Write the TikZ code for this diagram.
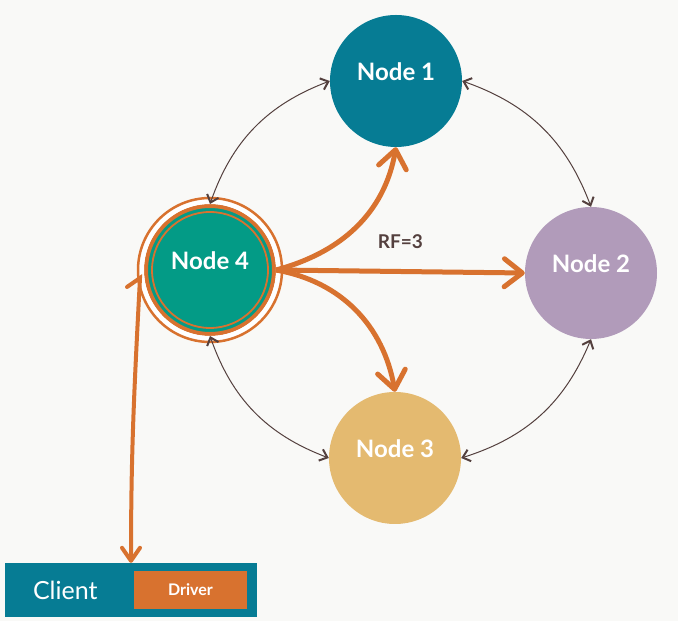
\documentclass[tikz,border=0pt]{standalone}
\usepackage{fontspec}
\setmainfont{Lato}
\usetikzlibrary{arrows.meta}

\definecolor{bgcol}{HTML}{F9F9F7}
\definecolor{tealblue}{HTML}{067C94}
\definecolor{lilac}{HTML}{B19BBA}
\definecolor{sand}{HTML}{E4BA70}
\definecolor{jade}{HTML}{039B86}
\definecolor{orng}{HTML}{D8722F}
\definecolor{darkarr}{HTML}{54403E}

\tikzset{
  ring/.style={draw=orng, line width=#1},
  repl/.style={draw=orng, line width=5pt, -{Straight Barb[length=18pt,width=28pt,round]}},
  gossip/.style={draw=darkarr, line width=1pt, <->, >={Straight Barb[length=7pt,width=12pt,line width=2pt]}}
}

\begin{document}
\begin{tikzpicture}[x=1pt,y=1pt]

      \fill[bgcol] (0,0) rectangle (678,621);

      \begin{scope}[every node/.style={circle, minimum size=132pt, inner sep=0pt, text=white,
          font=\fontsize{24}{28}\selectfont\bfseries, text height=15pt, text depth=15pt}]
        \node[fill=tealblue] (1) at (396,540) {Node 1};
        \node[fill=lilac]    (2) at (591,348) {Node 2};
        \node[fill=sand]     (3) at (395,163) {Node 3};
        \node[fill=jade, draw=orng, line width=4pt, minimum size=128pt] (4) at (210,351) {Node 4};
      \end{scope}

      \draw[white, line width=5pt] (4) circle (68.5);
      \draw[ring=2.5pt] (4) circle (72);
      \draw[ring=1.8pt] (4) circle (58);

      \node[fill=tealblue, minimum width=252pt, minimum height=54pt, text width=196pt, align=left,
        text=white, font=\fontsize{25}{29}\selectfont] (client) at (131,31) {Client};
      \node[fill=orng, minimum width=113pt, minimum height=38pt, text=white,
        font=\fontsize{16}{19}\selectfont\bfseries] (driver) at (190.5,31) {Driver};

      \coordinate (hook) at (127,334);
      \coordinate (tap)  at (140,343);

      \begin{scope}[every edge/.style={gossip}]
        \path (1.west)  edge[bend right=25] (4.north);
        \path (1.east)  edge[bend left=25]  (2.north);
        \path (2.south) edge[bend left=25]  (3.east);
        \path (4.south) edge[bend right=25] (3.west);
      \end{scope}

      \begin{scope}[every edge/.style={repl}]
        \path (4.east) edge[out=15, in=-100] (1.south);
        \path (4.east) edge node[above=17pt, text=darkarr, font=\fontsize{19}{22}\selectfont\bfseries] {RF=3} (2.west);
        \path (4.east) edge[out=-10, in=100] (3.north);
      \end{scope}

      \draw[draw=orng, line width=4pt, line cap=round, -{Straight Barb[length=13pt,width=18pt,round]}]
        (hook) -- (tap) to[out=-93, in=90] (client.north);

    \end{tikzpicture}
\end{document}
